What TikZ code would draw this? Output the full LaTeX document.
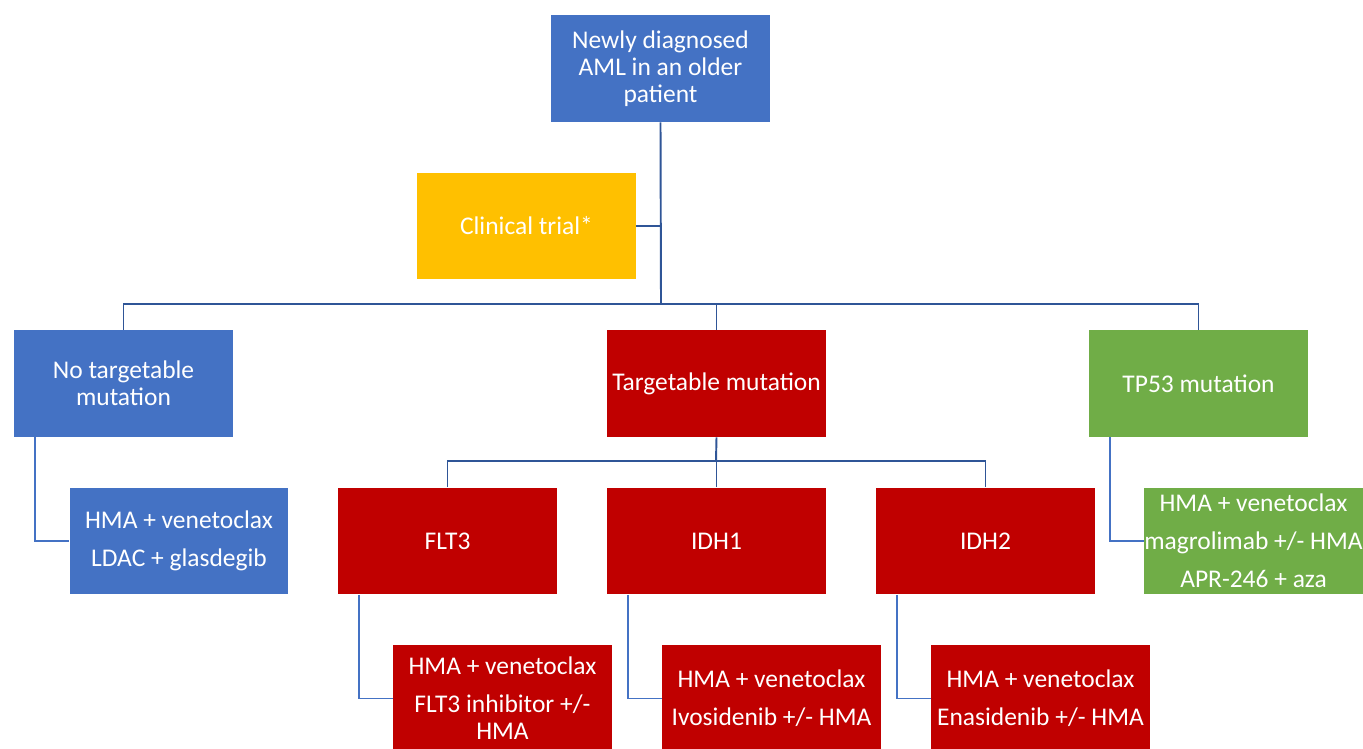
\documentclass[tikz,border=0pt]{standalone}
\usepackage{fontspec}
\setmainfont{Carlito}
\usetikzlibrary{positioning}
\definecolor{boxblue}{HTML}{4472C4}
\definecolor{boxred}{HTML}{C00000}
\definecolor{boxgreen}{HTML}{70AD47}
\definecolor{boxgold}{HTML}{FFC000}
\definecolor{linkdark}{HTML}{2F5597}
\definecolor{linklight}{HTML}{4472C4}
\tikzset{
  box/.style={rectangle,minimum width=4.38cm,minimum height=2.14cm,inner sep=0pt,
    align=center,text=white,font=\fontsize{14.5}{15.5}\selectfont},
  bluebox/.style={box,fill=boxblue},
  redbox/.style={box,fill=boxred},
  greenbox/.style={box,fill=boxgreen},
  goldbox/.style={box,fill=boxgold},
  link/.style={draw=linkdark,line width=1.1pt},
  sublink/.style={draw=linklight,line width=1.1pt},
}
\begin{document}
\begin{tikzpicture}[x=0.02cm,y=-0.02cm]
  \useasboundingbox (0,0) rectangle (1363,749);
  % top
  \node[bluebox] (root) at (660.5,68.5) {Newly diagnosed\\AML in an older\\patient};
  \node[goldbox] (trial) at (526.5,226) {Clinical trial*};
  % first level
  \node[bluebox] (notarg) at (123.5,383.5) {No targetable\\mutation};
  \node[redbox] (targ) at (716.5,383.5) {Targetable mutation};
  \node[greenbox] (tp53) at (1198.5,383.5) {TP53 mutation};
  % mutations
  \node[redbox] (flt3) at (447.5,541) {FLT3};
  \node[redbox] (idh1) at (716.5,541) {IDH1};
  \node[redbox] (idh2) at (985.5,541) {IDH2};
  % treatments
  \node[bluebox] (notargrx) at (179,541) {HMA + venetoclax\\[6pt]LDAC + glasdegib};
  \node[greenbox] (tp53rx) at (1253.5,541) {HMA + venetoclax\\[6pt]magrolimab +/- HMA\\[6pt]APR-246 + aza};
  \node[redbox] (flt3rx) at (502.5,698.5) {HMA + venetoclax\\[6pt]FLT3 inhibitor +/-\\HMA};
  \node[redbox] (idh1rx) at (771.5,698.5) {HMA + venetoclax\\[6pt]Ivosidenib +/- HMA};
  \node[redbox] (idh2rx) at (1040.5,698.5) {HMA + venetoclax\\[6pt]Enasidenib +/- HMA};
  % connectors
  \coordinate (bus1) at (661,304);
  \coordinate (bus2) at (716,461);
  \draw[link] (root.south) -- (bus1);
  \draw[link] (trial.east) -- (trial.east -| root.south);
  \draw[link] (notarg.north) |- (bus1) -| (tp53.north);
  \draw[link] (targ.north) -- (targ.north |- bus1);
  \draw[link] (targ.south) -- (bus2);
  \draw[link] (flt3.north) |- (bus2) -| (idh2.north);
  \draw[link] (idh1.north) -- (idh1.north |- bus2);
  \foreach \p/\c in {notarg/notargrx,tp53/tp53rx,flt3/flt3rx,idh1/idh1rx,idh2/idh2rx}
    \draw[sublink] ([xshift=0.42cm]\p.south west) |- (\c.west);
\end{tikzpicture}
\end{document}
